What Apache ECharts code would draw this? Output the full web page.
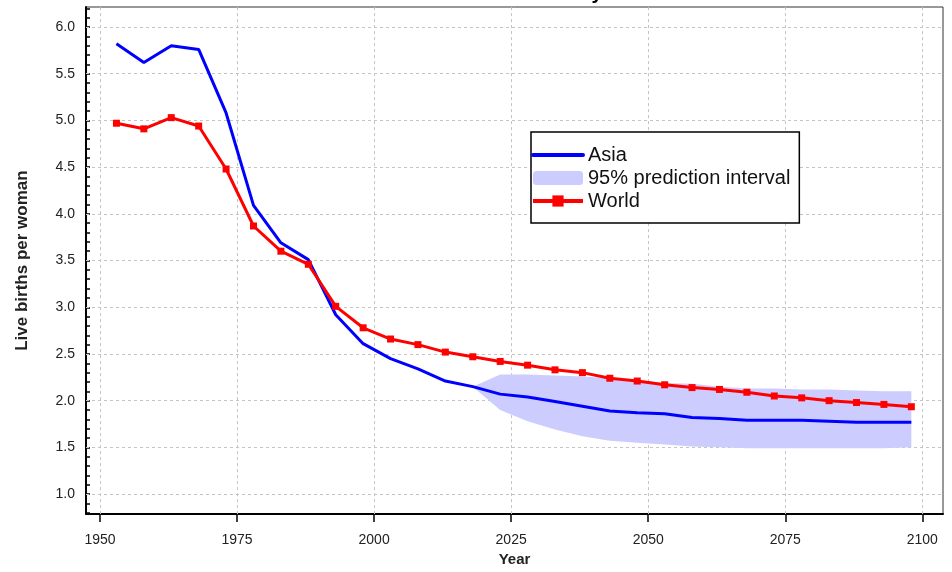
<!DOCTYPE html>
<html><head><meta charset="utf-8">
<script src="https://cdn.jsdelivr.net/npm/echarts@6/dist/echarts.min.js"></script>
<style>html,body{margin:0;padding:0;background:#fff}#c{width:952px;height:572px}</style>
</head><body><div id="c"></div>
<script>
const years = [1953,1958,1963,1968,1973,1978,1983,1988,1993,1998,2003,2008,2013,2018,2023,2028,2033,2038,2043,2048,2053,2058,2063,2068,2073,2078,2083,2088,2093,2098];
const asia  = [5.82,5.62,5.80,5.76,5.08,4.09,3.69,3.51,2.92,2.61,2.45,2.34,2.21,2.15,2.07,2.04,1.99,1.94,1.89,1.87,1.86,1.82,1.81,1.79,1.79,1.79,1.78,1.77,1.77,1.77];
const world = [4.97,4.91,5.03,4.94,4.48,3.87,3.60,3.46,3.01,2.78,2.66,2.60,2.52,2.47,2.42,2.38,2.33,2.30,2.24,2.21,2.17,2.14,2.12,2.09,2.05,2.03,2.00,1.98,1.96,1.935];
const bandYears = [2018,2023,2028,2033,2038,2043,2048,2053,2058,2063,2068,2073,2078,2083,2088,2093,2098];
const bandLower = [2.15,1.90,1.78,1.69,1.62,1.57,1.55,1.53,1.51,1.50,1.49,1.49,1.49,1.49,1.49,1.49,1.50];
const bandUpper = [2.15,2.28,2.28,2.27,2.26,2.24,2.22,2.19,2.18,2.15,2.13,2.13,2.12,2.12,2.11,2.10,2.10];
const xTicks = [1950,1975,2000,2025,2050,2075,2100];
const yTicks = [1.0,1.5,2.0,2.5,3.0,3.5,4.0,4.5,5.0,5.5,6.0];
const yMinorTicks = [0.8,0.9,1.0,1.1,1.2,1.3,1.4,1.5,1.6,1.7,1.8,1.9,2.0,2.1,2.2,2.3,2.4,2.5,2.6,2.7,2.8,2.9,3.0,3.1,3.2,3.3,3.4,3.5,3.6,3.7,3.8,3.9,4.0,4.1,4.2,4.3,4.4,4.5,4.6,4.7,4.8,4.9,5.0,5.1,5.2,5.3,5.4,5.5,5.6,5.7,5.8,5.9,6.0,6.1,6.2];

const FONT = '"Liberation Sans", Arial, sans-serif';
const chart = echarts.init(document.getElementById('c'), null, {renderer: 'canvas'});

const option = {
  animation: false,
  backgroundColor: '#fff',
  title: {
    text: 'Asia: Total Fertility',
    left: 424, top: -17, padding: 0,
    textStyle: {fontFamily: FONT, fontSize: 20, fontWeight: 'bold', color: '#000'}
  },
  grid: {left: 86, top: 7, right: 9, bottom: 51, show: true, borderColor: '#333', borderWidth: 1, containLabel: false},
  xAxis: {
    type: 'value', min: 1947.446, max: 2103.776,
    axisLine: {show: true, onZero: false, lineStyle: {color: '#000', width: 2}},
    axisTick: {show: true, customValues: xTicks, length: 8, lineStyle: {color: '#000', width: 1.5}},
    axisLabel: {customValues: xTicks, formatter: v => String(Math.round(v)), margin: 19, fontSize: 14, color: '#222', fontFamily: FONT},
    splitLine: {show: false},
    name: 'Year', nameLocation: 'middle', nameGap: 36,
    nameTextStyle: {fontFamily: FONT, fontWeight: 'bold', fontSize: 15, color: '#222'}
  },
  yAxis: {
    type: 'value', min: 0.7856, max: 6.2144,
    axisLine: {show: true, onZero: false, lineStyle: {color: '#000', width: 2}},
    axisTick: {show: true, customValues: yMinorTicks, inside: true, length: 4, lineStyle: {color: '#000', width: 1.5}},
    axisLabel: {customValues: yTicks, formatter: v => Number(v).toFixed(1), margin: 11, fontSize: 14, color: '#222', fontFamily: FONT},
    splitLine: {show: false},
    name: 'Live births per woman', nameLocation: 'middle', nameGap: 55, nameRotate: 90,
    nameTextStyle: {fontFamily: FONT, fontWeight: 'bold', fontSize: 17, color: '#222'}
  },
  legend: {
    orient: 'vertical', left: 531, top: 132,
    padding: [13, 9, 12, 0],
    itemWidth: 50, itemHeight: 14, itemGap: 3,
    borderColor: '#000', borderWidth: 1.5, backgroundColor: '#fff',
    textStyle: {fontFamily: FONT, fontSize: 20, color: '#111'},
    data: [
      {name: 'Asia', itemStyle: {opacity: 0}, lineStyle: {width: 4, cap: 'round'}},
      {name: '95% prediction interval', icon: 'roundRect', itemStyle: {color: '#ccccff'}},
      {name: 'World', lineStyle: {width: 4}}
    ]
  },
  series: [
    {
      name: 'gridHelper', type: 'line', silent: true,
      data: bandYears.map((y, i) => [y, bandLower[i]]),
      symbol: 'none', lineStyle: {width: 0, opacity: 0},
      markLine: {
        silent: true, z: 1, symbol: ['none', 'none'], label: {show: false},
        lineStyle: {color: '#c4c4c4', type: [3, 3], width: 1},
        emphasis: {disabled: true},
        data: xTicks.map(v => ({xAxis: v})).concat(yTicks.map(v => ({yAxis: v})))
      }
    },
    {
      name: '95% prediction interval', type: 'custom', silent: true, z: 2,
      data: bandYears.map((y, i) => [y, bandLower[i], bandUpper[i]]),
      encode: {x: 0, y: [1, 2]},
      renderItem: function (params, api) {
        if (params.dataIndex !== 0) return;
        const top = bandYears.map((y, i) => api.coord([y, bandUpper[i]]));
        const bottom = bandYears.map((y, i) => api.coord([y, bandLower[i]])).reverse();
        return {type: 'polygon', shape: {points: top.concat(bottom)}, style: {fill: '#ccccff'}};
      }
    },
    {
      name: 'Asia', type: 'line', z: 3,
      data: years.map((y, i) => [y, asia[i]]),
      symbol: 'none', itemStyle: {color: '#0000ff'},
      lineStyle: {color: '#0000ff', width: 3}
    },
    {
      name: 'World', type: 'line', z: 4,
      data: years.map((y, i) => [y, world[i]]),
      symbol: 'rect', symbolSize: 7, showSymbol: true,
      itemStyle: {color: '#ff0000'},
      lineStyle: {color: '#ff0000', width: 3}
    }
  ]
};
chart.setOption(option);
</script>
</body></html>
